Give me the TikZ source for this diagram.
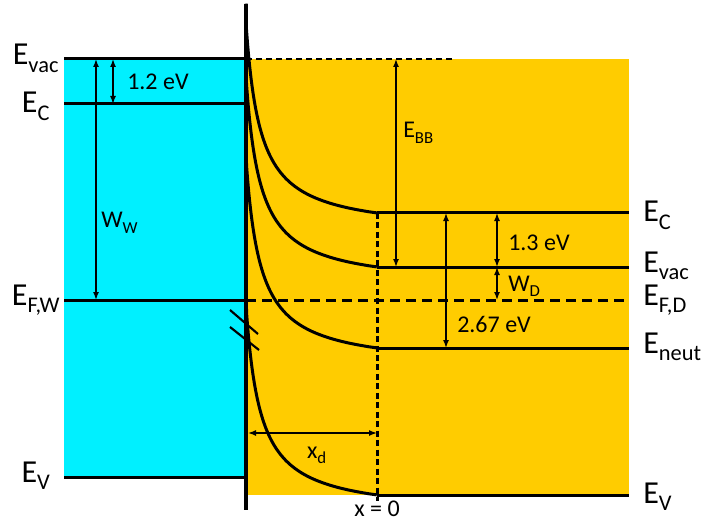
\documentclass[tikz,border=0pt]{standalone}
\usepackage{fontspec}
\setmainfont{Carlito}
\usepackage{tikz}
\usetikzlibrary{arrows.meta,positioning,calc}
\usepackage{xcolor}
\definecolor{Aqua}{HTML}{00F0FF}
\definecolor{Gold}{HTML}{FFCC00}
\newcommand{\lowsub}[1]{\raisebox{-0.07em}{\textsubscript{#1}}}
\tikzset{
  level/.style={line width=2.25pt},
  fermi/.style={line width=2.25pt, dash pattern=on 7.5pt off 4.5pt},
  vacdash/.style={line width=1.9pt, dash pattern=on 4.5pt off 3pt},
  xzero/.style={line width=2.25pt, dash pattern=on 4.5pt off 2.6pt},
  band/.style={line width=2.25pt, line join=round},
  iface/.style={line width=2.6pt},
  brk/.style={line width=1.6pt},
  dimarr/.style={<->, >={Latex[length=6pt,width=4.5pt]}, line width=1.1pt},
  biglbl/.style={font=\fontsize{24}{28}\selectfont, inner sep=0pt},
  smalllbl/.style={font=\fontsize{18}{22}\selectfont, inner sep=0pt},
}

\begin{document}
\begin{tikzpicture}[x=0.75pt, y=-0.75pt]
  \useasboundingbox (0,0) rectangle (702,520);
  % metal (left) and semiconductor (right)
  \fill[Aqua] (64,59) rectangle (245,477);
  \fill[Gold] (245,59) rectangle (629,495);

  \coordinate (wvac) at (64,59);
  \coordinate (wc) at (64,104);
  \coordinate (wf) at (64,300);
  \coordinate (wv) at (64,477);
  \coordinate (itop) at (246,4);
  \coordinate (ibot) at (246,510);
  \coordinate (dc) at (377,213);
  \coordinate (dvac) at (377,267);
  \coordinate (dn) at (377,348);
  \coordinate (dv) at (377,495);
  \coordinate (rend) at (629,0);
  \coordinate (x0) at (377,501);
  \coordinate (vacend) at (455,59);

  % levels
  \draw[level] (wvac) -- (wvac -| itop);
  \draw[level] (wc) -- (wc -| itop);
  \draw[level] (wf) -- (wf -| itop);
  \draw[level] (wv) -- (wv -| itop);
  \draw[vacdash] (wvac -| itop) -- (vacend);
  \draw[fermi] (wf -| itop) -- (wf -| rend);
  \draw[level] (dc) -- (dc -| rend);
  \draw[level] (dvac) -- (dvac -| rend);
  \draw[level] (dn) -- (dn -| rend);
  \draw[level] (dv) -- (dv -| rend);
  \draw[xzero] (dc) -- (x0);

  % bent bands
  \foreach \lev in {213,267,348,495}
    \draw[band] (itop) -- plot[domain=0:1, samples=70, variable=\t]
      ({246.5+130.5*\t*\t}, {\lev-2951*(1/(14.5+130.5*\t*\t)-1/145)});

  \draw[iface] (itop) -- (ibot);
  \draw[brk] (230,310) -- (258,334);
  \draw[brk] (230,327) -- (259,350);

  % arrows
  \draw[dimarr] (96,0 |- wvac) -- (96,0 |- wf);
  \draw[dimarr] (113,0 |- wvac) -- (113,0 |- wc);
  \draw[dimarr] (396,0 |- wvac) -- (396,0 |- dvac);
  \draw[dimarr] (446,0 |- dc) -- (446,0 |- dn);
  \draw[dimarr] (497,0 |- dc) -- (497,0 |- dvac);
  \draw[dimarr] (497,0 |- dvac) -- (497,0 |- wf);
  \draw[dimarr] (248,433) -- (x0 |- 0,433);

  % labels
  \node[biglbl, anchor=base] (lwvac) at (36,65) {E\lowsub{vac}};
  \node[biglbl, anchor=base] (lwc) at (36,113) {E\lowsub{C}};
  \node[biglbl, anchor=base] (lwf) at (36,305) {E\lowsub{F,W}};
  \node[biglbl, anchor=base] (lwv) at (36,482) {E\lowsub{V}};
  \node[biglbl, anchor=base west] (ldc) at (643,222) {E\lowsub{C}};
  \node[biglbl, anchor=base west] (ldvac) at (643,272) {E\lowsub{vac}};
  \node[biglbl, anchor=base west] (ldf) at (643,305) {E\lowsub{F,D}};
  \node[biglbl, anchor=base west] (ldn) at (643,353) {E\lowsub{neut}};
  \node[biglbl, anchor=base west] (ldv) at (643,503) {E\lowsub{V}};

  \node[smalllbl, anchor=base west] (gapw) at (127,90) {1.2 eV};
  \node[smalllbl, anchor=base west] (ww) at (101,228) {W\lowsub{W}};
  \node[smalllbl, anchor=base west] (ebb) at (403,138) {E\lowsub{BB}};
  \node[smalllbl, anchor=base west] (gapd) at (508,250) {1.3 eV};
  \node[smalllbl, anchor=base west] (wd) at (508,291) {W\lowsub{D}};
  \node[smalllbl, anchor=base west] (eneut) at (457,332) {2.67 eV};
  \node[smalllbl, anchor=base] (xd) at (317,458) {x\lowsub{d}};
  \node[smalllbl, anchor=base] (xzero) at (377,516) {x = 0};
\end{tikzpicture}
\end{document}
